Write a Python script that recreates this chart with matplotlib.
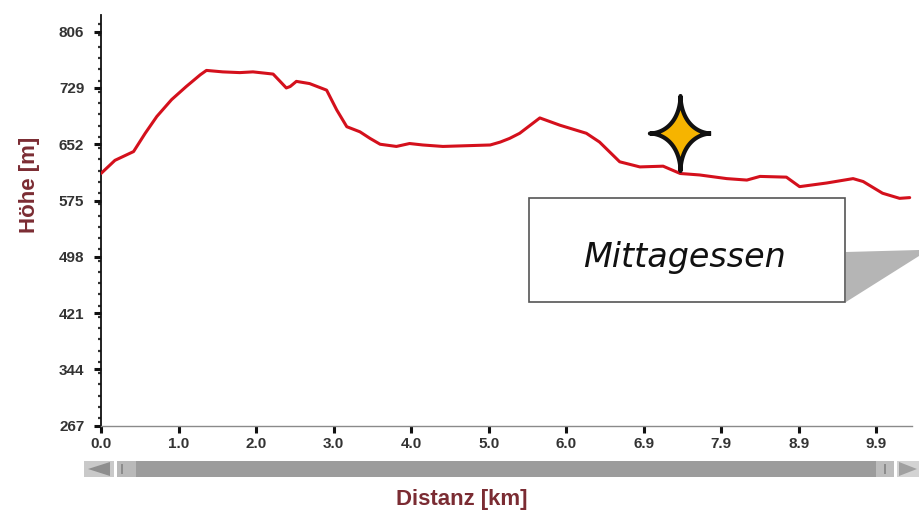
import numpy as np
import matplotlib
matplotlib.use("Agg")
import matplotlib.pyplot as plt
from matplotlib.patches import Rectangle, Polygon
from matplotlib.path import Path
from matplotlib.ticker import MultipleLocator, FixedLocator
import matplotlib.transforms as mtransforms

# Hoehenprofil
distanz_km = [0.0, 0.18, 0.42, 0.57, 0.72, 0.91, 1.10, 1.28, 1.36, 1.57, 1.79, 1.96,
              2.22, 2.31, 2.39, 2.44, 2.52, 2.69, 2.91, 3.04, 3.17, 3.34, 3.47, 3.60,
              3.81, 3.98, 4.15, 4.41, 5.02, 5.15, 5.27, 5.40, 5.66, 5.92, 6.26, 6.43,
              6.69, 6.95, 7.25, 7.47, 7.72, 8.07, 8.33, 8.50, 8.84, 9.01, 9.36, 9.70,
              9.83, 10.08, 10.30, 10.43]
hoehe_m = [612, 630, 642, 667, 690, 713, 731, 747, 753, 751, 750, 751,
           748, 738, 729, 731, 738, 735, 726, 699, 676, 669, 660, 652,
           649, 653, 651, 649, 651, 655, 660, 667, 688, 678, 667, 655,
           628, 621, 622, 612, 610, 605, 603, 608, 607, 594, 599, 605,
           601, 585, 578, 579]

y_ticks = [267, 344, 421, 498, 575, 652, 729, 806]
x_tick_labels = ["0.0", "1.0", "2.0", "3.0", "4.0", "5.0", "6.0", "6.9", "7.9", "8.9", "9.9"]

stopp_km = 7.47
stopp_text = "Mittagessen"

W, H = 919, 521
fig = plt.figure(figsize=(W / 100, H / 100), dpi=100)
fig.patch.set_facecolor("white")

ax = fig.add_axes([101 / W, 1 - 425.7 / H, (912 - 101) / W, (425.7 - 15) / H])
ax.plot(distanz_km, hoehe_m, color="#d4101c", lw=2.2, solid_joinstyle="round",
        solid_capstyle="round", zorder=3)

ax.set_xlim(0, 10.46)
ax.set_ylim(267, 828.8)

ax.yaxis.set_major_locator(FixedLocator(y_ticks))
ax.yaxis.set_minor_locator(MultipleLocator(77 / 5))
ax.xaxis.set_major_locator(FixedLocator(range(len(x_tick_labels))))
ax.set_xticklabels(x_tick_labels)

for s in ["top", "right"]:
    ax.spines[s].set_visible(False)
ax.spines["left"].set_color("#111111")
ax.spines["left"].set_linewidth(1.3)
ax.spines["bottom"].set_color("#8a8a8a")
ax.spines["bottom"].set_linewidth(1.0)

tick_font = dict(family=["Liberation Sans", "DejaVu Sans"], weight="bold", size=11)
ax.tick_params(axis="y", which="major", length=5, width=2.2, color="#111111", pad=7,
               labelcolor="#333333")
ax.tick_params(axis="y", which="minor", length=2.5, width=1.6, color="#333333")
ax.tick_params(axis="x", which="major", length=5, width=2.2, color="#111111", pad=3,
               labelcolor="#333333")
for lab in ax.get_xticklabels() + ax.get_yticklabels():
    lab.set_fontproperties(matplotlib.font_manager.FontProperties(**tick_font))

label_color = "#7b2c33"
fig.text(30 / W, 1 - 185 / H, "Höhe [m]", rotation=90, ha="center", va="center",
         color=label_color, fontsize=16, fontweight="bold",
         family=["Liberation Sans", "DejaVu Sans"])
fig.text(462 / W, 1 - 500 / H, "Distanz [km]", ha="center", va="center",
         color=label_color, fontsize=16, fontweight="bold",
         family=["Liberation Sans", "DejaVu Sans"])

# Stern auf der Route
t = np.linspace(0, 2 * np.pi, 240)
sx = np.sign(np.cos(t)) * np.abs(np.cos(t)) ** 3.6 * 31
sy = np.sign(np.sin(t)) * np.abs(np.sin(t)) ** 3.6 * 38
star = Path(np.column_stack([sx, sy]))
stopp_h = np.interp(stopp_km, distanz_km, hoehe_m)
trans = mtransforms.offset_copy(ax.transData, fig=fig, x=0, y=40, units="dots")
ax.plot([stopp_km], [stopp_h], marker=star, markersize=54, markerfacecolor="#f6b400",
        markeredgecolor="#111111", markeredgewidth=3.0, transform=trans, zorder=5,
        clip_on=False)

# Infobox mit Schatten
def fx(px):
    return px / W

def fy(py):
    return 1 - py / H

shadow = Polygon([(fx(846), fy(252)), (fx(919), fy(250)), (fx(919), fy(256)), (fx(846), fy(302))],
                 closed=True, transform=fig.transFigure, facecolor="#b5b5b5", edgecolor="none")
fig.add_artist(shadow)
box = Rectangle((fx(529), fy(302)), (845 - 529) / W, (302 - 198) / H, transform=fig.transFigure,
                facecolor="white", edgecolor="#555555", lw=1.2)
fig.add_artist(box)
fig.text(fx(684), fy(258), stopp_text, ha="center", va="center", fontsize=24,
         style="oblique", color="#111111", family=["DejaVu Sans"])

# Scrollleiste unter der x-Achse
def frect(x0, x1, y0, y1, color):
    fig.add_artist(Rectangle((fx(x0), fy(y1)), (x1 - x0) / W, (y1 - y0) / H,
                             transform=fig.transFigure, facecolor=color, edgecolor="none"))

frect(84, 114, 461, 477, "#c9c9c9")
frect(117, 138, 461, 477, "#b9b9b9")
frect(136, 876, 461, 477, "#9c9c9c")
frect(876, 894, 461, 477, "#bdbdbd")
frect(897, 919, 461, 477, "#d3d3d3")
frect(121, 123, 464, 474, "#8c8c8c")
frect(884, 886, 464, 474, "#8c8c8c")
fig.add_artist(Polygon([(fx(88), fy(469)), (fx(110), fy(462)), (fx(110), fy(476))],
                       transform=fig.transFigure, facecolor="#8e8e8e", edgecolor="none"))
fig.add_artist(Polygon([(fx(917), fy(469)), (fx(899), fy(462)), (fx(899), fy(476))],
                       transform=fig.transFigure, facecolor="#a0a0a0", edgecolor="none"))

fig.savefig("out.png", dpi=100)
